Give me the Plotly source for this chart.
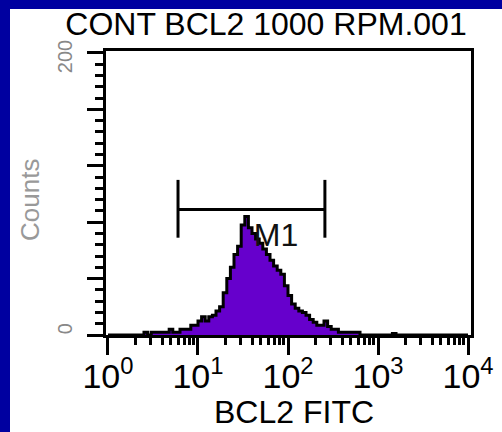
import numpy as np
import plotly.graph_objects as go

# histogram channels: 100 log channels over 4 decades
channel_edges = np.logspace(0, 4, 101)
counts = [0, 0, 0, 0, 0, 0, 0, 0, 0, 0,
          2, 0, 2, 2, 2, 2, 2, 4, 2, 2,
          4, 4, 4, 7, 7, 10, 13, 10, 13, 14,
          17, 20, 30, 40, 48, 57, 63, 78, 84, 76,
          72, 68, 65, 61, 57, 53, 49, 46, 43, 35,
          28, 22, 19, 17, 16, 14, 11, 9, 7, 7,
          10, 6, 4, 4, 2, 2, 2, 2, 2, 2,
          0, 0, 0, 0, 0, 0, 0, 0, 0, 1,
          0, 0, 0, 0, 0, 0, 0, 0, 0, 0,
          0, 0, 0, 0, 0, 0, 0, 0, 0, 0]

# marker M1
m1_lo, m1_hi = 6.0, 257.0
m1_level, m1_bar_lo, m1_bar_hi = 89, 69, 110

x_tickvals = [1, 10, 100, 1000, 10000]
x_ticktext = ["10<sup>0</sup>", "10<sup>1</sup>", "10<sup>2</sup>", "10<sup>3</sup>", "10<sup>4</sup>"]
x_minor = [m * 10 ** d for d in range(4) for m in range(2, 10)]
y_tickvals = [0, 40, 80, 120, 160, 200]
y_labels = {0: "0", 200: "200"}

FONT = "Liberation Sans, Arial, sans-serif"

hist = go.Scatter(
    x=list(channel_edges),
    y=counts + [counts[-1]],
    mode="lines",
    line=dict(shape="hv", color="black", width=3),
    fill="tozeroy",
    fillcolor="#6600CC",
    hoverinfo="skip",
)

marker = go.Scatter(
    x=[m1_lo, m1_hi, None, m1_lo, m1_lo, None, m1_hi, m1_hi],
    y=[m1_level, m1_level, None, m1_bar_lo, m1_bar_hi, None, m1_bar_lo, m1_bar_hi],
    mode="lines",
    line=dict(color="black", width=3),
    hoverinfo="skip",
)

m1_label = go.Scatter(
    x=[73.6], y=[69], mode="text", text=["M1"],
    textfont=dict(family=FONT, size=32, color="#111"),
    textposition="middle center",
    hoverinfo="skip",
)

fig = go.Figure(data=[hist, marker, m1_label])

W, H = 502, 432
ml, mr, mt, mb = 106, 31, 51, 97
pw, ph = W - ml - mr, H - mt - mb

annotations = [
    dict(text="BCL2 FITC", xref="paper", yref="paper",
         x=(294 - ml) / pw, y=(ph - (411.5 - mt)) / ph,
         xanchor="center", yanchor="middle", showarrow=False,
         font=dict(family=FONT, size=32, color="black")),
    dict(text="Counts", xref="paper", yref="paper",
         x=(30 - ml) / pw, y=(ph - (200 - mt)) / ph, textangle=-90,
         xanchor="center", yanchor="middle", showarrow=False,
         font=dict(family=FONT, size=26, color="#999")),
]
# rotated y tick labels, set off to the left like the original
for val, lab in y_labels.items():
    annotations.append(dict(
        text=lab, xref="paper", yref="y", x=(65 - ml) / pw,
        y=max(val, 4) if val < 100 else val - 3, textangle=-90,
        xanchor="center", yanchor="middle", showarrow=False,
        font=dict(family=FONT, size=20, color="#888")))

fig.update_layout(
    width=W, height=H,
    margin=dict(l=ml, r=mr, t=mt, b=mb, autoexpand=False),
    paper_bgcolor="white",
    plot_bgcolor="white",
    showlegend=False,
    font=dict(family=FONT, color="black"),
    title=dict(text="CONT BCL2 1000 RPM.001", x=266 / W, xanchor="center",
               y=1 - 24 / H, yanchor="middle",
               font=dict(family=FONT, size=32, color="black")),
    xaxis=dict(
        type="log", range=[-0.022, 4.033], automargin=False,
        showline=True, linewidth=3, linecolor="black", mirror=True,
        showgrid=False, zeroline=False,
        tickvals=x_tickvals, ticktext=x_ticktext,
        ticks="outside", ticklen=17, tickwidth=3, tickcolor="black",
        tickfont=dict(family=FONT, size=34, color="black"),
        ticklabelstandoff=-8,
        minor=dict(tickvals=x_minor, ticks="outside", ticklen=7,
                   tickwidth=2.5, tickcolor="black", showgrid=False),
    ),
    yaxis=dict(
        range=[0, 201.4], automargin=False,
        showline=True, linewidth=3, linecolor="black", mirror=True,
        showgrid=False, zeroline=False,
        tickvals=y_tickvals, showticklabels=False,
        ticks="outside", ticklen=16, tickwidth=3, tickcolor="black",
        minor=dict(dtick=8, tick0=0, ticks="outside", ticklen=8,
                   tickwidth=3, tickcolor="black", showgrid=False),
    ),
    annotations=annotations,
    shapes=[
        dict(type="rect", xref="paper", yref="paper", layer="above",
             x0=-ml / pw, x1=(10 - ml) / pw, y0=-mb / ph, y1=(ph + mt) / ph,
             fillcolor="#0000A0", line=dict(width=0)),
        dict(type="rect", xref="paper", yref="paper", layer="above",
             x0=-ml / pw, x1=(W - ml) / pw, y0=(ph + mt - 9) / ph, y1=(ph + mt) / ph,
             fillcolor="#0000A0", line=dict(width=0)),
    ],
)

fig.write_html("out.html", config={"displayModeBar": False},
               post_script="document.body.style.margin='0';")
